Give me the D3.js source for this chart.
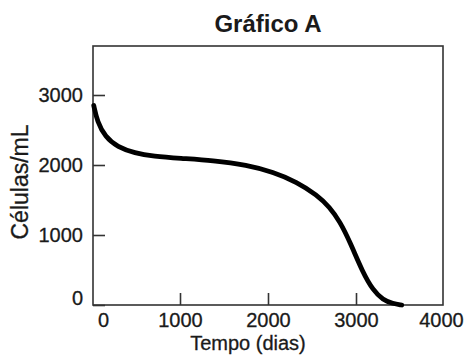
<!DOCTYPE html>
<html>
<head>
<meta charset="utf-8">
<script src="https://cdn.jsdelivr.net/npm/d3@7"></script>
<style>
  html, body { margin: 0; padding: 0; background: #ffffff; }
  svg { display: block; }
  text { font-family: "Liberation Sans", Arial, Helvetica, sans-serif; fill: #1a1a1a; }
</style>
</head>
<body>
<script>
// ---- data ----
const title = "Gráfico A";
const xLabel = "Tempo (dias)";
const yLabel = "Células/mL";
const xTicks = [0, 1000, 2000, 3000, 4000];
const yTicks = [0, 1000, 2000, 3000];
const tempo =   [20,   60,   150,  290,  485,  700,  1000, 1375, 1761, 2057, 2330, 2557, 2700, 2818, 2932, 3080, 3193, 3307, 3420, 3520];
const celulas = [2850, 2620, 2400, 2257, 2170, 2125, 2095, 2065, 2000, 1900, 1757, 1571, 1400, 1190, 900,  457,  214,  71,   20,   0];

// ---- layout ----
const W = 466, H = 358;
const svg = d3.select("body").append("svg").attr("width", W).attr("height", H);

const x = d3.scaleLinear().domain([0, 4000]).range([92, 444]);
const y = d3.scaleLinear().domain([0, 3000]).range([305, 95]);

const frame = { left: 93, right: 443, top: 46, bottom: 305 };

// frame
svg.append("rect")
  .attr("x", frame.left).attr("y", frame.top)
  .attr("width", frame.right - frame.left).attr("height", frame.bottom - frame.top)
  .attr("fill", "none").attr("stroke", "#333").attr("stroke-width", 1.6);

// y axis
const gy = svg.append("g").attr("transform", `translate(${frame.left},0)`)
  .call(d3.axisLeft(y).tickValues(yTicks).tickFormat(d3.format("d")).tickSize(-12).tickPadding(10));
gy.select(".domain").remove();
gy.selectAll(".tick line").attr("stroke", "#333").attr("stroke-width", 1.6);
gy.selectAll(".tick text").style("font-size", "20px").attr("fill", "#1a1a1a")
  .attr("stroke", "#1a1a1a").attr("stroke-width", 0.3)
  .attr("dy", d => d === 0 ? "-0.05em" : "0.32em");

// x axis
const gx = svg.append("g").attr("transform", `translate(0,${frame.bottom})`)
  .call(d3.axisBottom(x).tickValues(xTicks).tickFormat(d3.format("d")).tickSize(-12).tickPadding(8));
gx.select(".domain").remove();
gx.selectAll(".tick line").attr("stroke", "#333").attr("stroke-width", 1.6)
  .attr("display", d => (d === 0 || d === 4000) ? "none" : null);
gx.selectAll(".tick text").style("font-size", "20px").attr("fill", "#1a1a1a")
  .attr("stroke", "#1a1a1a").attr("stroke-width", 0.3)
  .attr("dx", d => d === 0 ? 11 : (d === 4000 ? -3 : 0));

// line
const line = d3.line()
  .x((d, i) => x(tempo[i]))
  .y((d, i) => y(celulas[i]))
  .curve(d3.curveBasis);
svg.append("path")
  .datum(celulas)
  .attr("d", line)
  .attr("fill", "none")
  .attr("stroke", "#000")
  .attr("stroke-width", 4.8)
  .attr("stroke-linecap", "round")
  .attr("stroke-linejoin", "round");

// title
svg.append("text").attr("x", 268).attr("y", 32).attr("text-anchor", "middle")
  .style("font-size", "24px").style("font-weight", "bold").text(title);

// axis labels
svg.append("text").attr("x", 248).attr("y", 350).attr("text-anchor", "middle")
  .attr("stroke", "#1a1a1a").attr("stroke-width", 0.3)
  .style("font-size", "20px").text(xLabel);
svg.append("text").attr("transform", "translate(28,182) rotate(-90)").attr("text-anchor", "middle")
  .attr("stroke", "#1a1a1a").attr("stroke-width", 0.3)
  .style("font-size", "23px").text(yLabel);
</script>
</body>
</html>
